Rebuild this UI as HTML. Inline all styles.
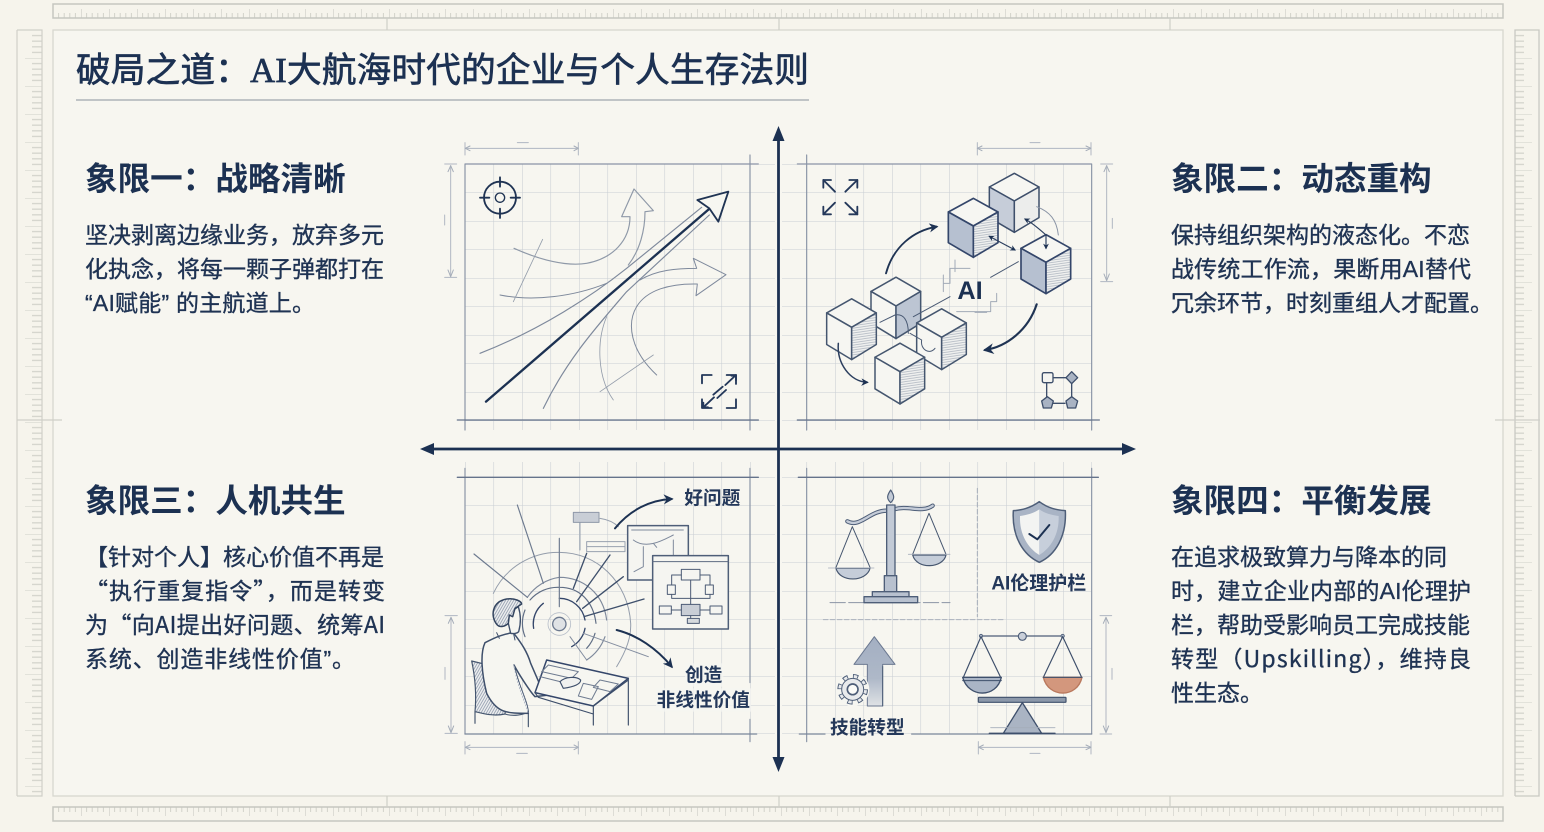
<!DOCTYPE html>
<html lang="zh-CN"><head><meta charset="utf-8"><title>破局之道</title>
<style>
html,body{margin:0;padding:0;width:1544px;height:832px;overflow:hidden;background:#f6f4ec}
svg{display:block;filter:blur(.35px)}
.t{font-family:"Liberation Serif","Noto Sans CJK SC",serif;font-size:34.6px;fill:#1c3152;stroke:#1c3152;stroke-width:.7}
.h{font-family:"Liberation Sans","Noto Sans CJK SC",sans-serif;font-size:32.6px;font-weight:700;fill:#1c3152}
.b{font-family:"Liberation Sans","Noto Sans CJK SC",sans-serif;font-size:23px;fill:#1f3353;stroke:#1f3353;stroke-width:.35}
.c{font-family:"Noto Sans CJK SC","Liberation Sans",sans-serif}
.l{font-family:"Liberation Sans","Noto Sans CJK SC",sans-serif;font-size:56px;font-weight:700;fill:#24385a}
.n{fill:none}
</style></head><body>
<svg xmlns="http://www.w3.org/2000/svg" width="1544" height="832" viewBox="0 0 1544 832">
<defs>
<pattern id="gq1" patternUnits="userSpaceOnUse" x="465" y="164" width="28.5" height="28.5"><path d="M0 0H28.5M0 0V28.5" fill="none" stroke="#c9ced3" stroke-width="1.1"/></pattern>
<pattern id="gq2" patternUnits="userSpaceOnUse" x="806.5" y="164" width="28.5" height="28.5"><path d="M0 0H28.5M0 0V28.5" fill="none" stroke="#c9ced3" stroke-width="1.1"/></pattern>
<pattern id="gq3" patternUnits="userSpaceOnUse" x="465" y="477" width="28.5" height="28.5"><path d="M0 0H28.5M0 0V28.5" fill="none" stroke="#c9ced3" stroke-width="1.1"/></pattern>
<pattern id="gq4" patternUnits="userSpaceOnUse" x="806.5" y="477" width="28.5" height="28.5"><path d="M0 0H28.5M0 0V28.5" fill="none" stroke="#c9ced3" stroke-width="1.1"/></pattern>
<pattern id="rt" patternUnits="userSpaceOnUse" x="53" y="0" width="28" height="30"><path d="M5.6 13V18M11.2 13V18M16.8 13V18M22.4 13V18" stroke="#d2d2ca" stroke-width="1"/><path d="M0 9V18" stroke="#c4c5be" stroke-width="1"/></pattern>
<pattern id="rb" patternUnits="userSpaceOnUse" x="53" y="800" width="28" height="30"><path d="M5.6 7V12M11.2 7V12M16.8 7V12M22.4 7V12" stroke="#d2d2ca" stroke-width="1"/><path d="M0 7V16" stroke="#c4c5be" stroke-width="1"/></pattern>
<pattern id="rl" patternUnits="userSpaceOnUse" x="0" y="30" width="60" height="28"><path d="M32 5.6H42M32 11.2H42M32 16.8H42M32 22.4H42" stroke="#d6d6ce" stroke-width="1.4"/><path d="M25 0H42" stroke="#cfcfc7" stroke-width="1"/></pattern>
<pattern id="rr" patternUnits="userSpaceOnUse" x="1500" y="30" width="60" height="28"><path d="M15 5.6H24M15 11.2H24M15 16.8H24M15 22.4H24" stroke="#d6d6ce" stroke-width="1.4"/><path d="M15 0H32" stroke="#cfcfc7" stroke-width="1"/></pattern>
<pattern id="ha" patternUnits="userSpaceOnUse" width="9" height="7" patternTransform="rotate(-8)"><rect width="9" height="7" fill="#eff0ef"/><path d="M0 3H9" stroke="#a8b0bb" stroke-width="2"/></pattern>
<pattern id="hd" patternUnits="userSpaceOnUse" width="7" height="7" patternTransform="rotate(30)"><rect width="7" height="7" fill="#eceeef"/><path d="M3 0V7" stroke="#7f8ba0" stroke-width="2"/></pattern>
<linearGradient id="fade" x1="0" y1="0" x2="0" y2="1"><stop offset="0" stop-color="#a3afc2"/><stop offset=".6" stop-color="#aeb8c8"/><stop offset="1" stop-color="#dfe2e5"/></linearGradient>
<marker id="ah" viewBox="0 0 10 10" refX="8" refY="5" markerWidth="5" markerHeight="5" orient="auto-start-reverse"><path d="M0 0L10 5L0 10L3 5Z" fill="#1c3152"/></marker>
<path id="tp" d="M0 0L-75-42L0-83L74-42Z"/>
<path id="lf" d="M0 0L-75-42V50L0 94Z"/>
<path id="rf" d="M0 0L74-42V50L0 94Z"/>
</defs>

<rect width="1544" height="832" fill="#f6f4ec"/>
<rect x="53" y="30" width="1450" height="766" fill="#f7f6f0" stroke="#d7d7cf" stroke-width="1.3"/>

<!-- rulers -->
<rect x="53" y="4" width="1450" height="14" fill="url(#rt)" stroke="#c5c6c0" stroke-width="1.5"/>
<rect x="53" y="807" width="1450" height="14" fill="url(#rb)" stroke="#c5c6c0" stroke-width="1.5"/>
<rect x="17" y="30" width="25" height="766" fill="url(#rl)"/>
<path d="M17 30V796M17 30H42V796H17" fill="none" stroke="#d0d0c9" stroke-width="1.2"/>
<rect x="1515" y="30" width="24" height="766" fill="url(#rr)"/>
<path d="M1515 796V30H1539V796H1515" fill="none" stroke="#c9c9c3" stroke-width="1.3"/>
<path d="M387 18V30M779 18V30M1170 18V30M387 796V807M779 796V807M1170 796V807M17 420H62M1495 420H1540" stroke="#cfcfc8" stroke-width="1.2"/>

<!-- title -->
<text class="t" x="76" y="82" textLength="733">破局之道：AI大航海时代的企业与个人生存法则</text>
<path d="M76 100H809" stroke="#aeb3b7" stroke-width="1.5"/>

<!-- left/right text -->
<text class="h" x="85" y="190">象限一：战略清晰</text>
<text class="b" x="85" y="243">坚决剥离边缘业务，放弃多元</text>
<text class="b" x="85" y="277">化执念，将每一颗子弹都打在</text>
<text class="b" x="85" y="311" textLength="230">“AI赋能” 的主航道上。</text>

<text class="h" x="1171" y="190">象限二：动态重构</text>
<text class="b" x="1171" y="243">保持组织架构的液态化。不恋</text>
<text class="b" x="1171" y="277" textLength="300">战传统工作流，果断用AI替代</text>
<text class="b" x="1171" y="311">冗余环节，时刻重组人才配置。</text>

<text class="h" x="85" y="512">象限三：人机共生</text>
<text class="b" x="85" y="565">【针对个人】核心价值不再是</text>
<text class="b c" x="85" y="599" textLength="300">“执行重复指令”，而是转变</text>
<text class="b c" x="85" y="633" textLength="300">为“向AI提出好问题、统筹AI</text>
<text class="b" x="85" y="667" textLength="270">系统、创造非线性价值”。</text>

<text class="h" x="1171" y="512">象限四：平衡发展</text>
<text class="b" x="1171" y="565">在追求极致算力与降本的同</text>
<text class="b" x="1171" y="599" textLength="300">时，建立企业内部的AI伦理护</text>
<text class="b" x="1171" y="633">栏，帮助受影响员工完成技能</text>
<text class="b c" x="1171" y="667" textLength="300">转型（Upskilling），维持良</text>
<text class="b" x="1171" y="701">性生态。</text>

<!-- grids -->
<rect x="465" y="164" width="310" height="266" fill="url(#gq1)"/>
<rect x="782" y="164" width="310" height="266" fill="url(#gq2)"/>
<rect x="465" y="462" width="310" height="272" fill="url(#gq3)"/>
<rect x="782" y="462" width="310" height="272" fill="url(#gq4)"/>

<!-- axes -->
<path d="M778.5 134V764M428 449H1128" stroke="#1c3152" stroke-width="2.8"/>
<path d="M778.5 126L784.5 141H772.5ZM778.5 772L784.5 757H772.5ZM420 449L434 443V455ZM1136 449L1122 443V455Z" fill="#1c3152"/>

<!-- Q1 -->
<g transform="translate(440 120) scale(.33333)" fill="none" stroke-linecap="round" stroke-linejoin="round">
<path d="M75 132H955M930 105V930M75 132V930" stroke="#8a94a6" stroke-width="3.5"/>
<path d="M52 900H955" stroke="#65738b" stroke-width="4"/>
<path d="M75 68V105M415 68V105M80 85H410M232 68H265M14 132H50M14 472H50M32 137V468M14 285V315" stroke="#b0b7c2" stroke-width="3"/>
<path d="M90 78L76 85L90 92M402 78L415 85L402 92M24 155L32 137L40 155M24 450L32 470L40 450" stroke="#a4acb8" stroke-width="3"/>
<g stroke="#1f3353" stroke-width="5.5"><circle cx="180" cy="233" r="48"/><circle cx="180" cy="233" r="14" stroke-width="4"/><path d="M180 172V200M180 266V294M120 233H148M212 233H240"/></g>
<path d="M120 700C300 630 460 525 560 445L785 262" stroke="#7e899c" stroke-width="3.5"/>
<path d="M310 865C380 720 470 620 560 515L808 285" stroke="#7e899c" stroke-width="3.5"/>
<path d="M222 385C300 420 380 440 440 430C520 415 570 360 570 290L545 290L582 207L640 272L615 275C615 330 600 390 565 435" stroke="#8f99a8" stroke-width="3.5"/>
<path d="M180 525C280 545 400 530 500 490" stroke="#7e899c" stroke-width="3"/>
<path d="M600 480C650 450 710 445 770 445L760 415L858 464L768 527L772 492C690 490 620 510 590 560C560 610 570 690 650 765" stroke="#7e899c" stroke-width="3"/>
<path d="M500 590C470 660 470 770 520 840M480 815L640 705M308 358L220 545" stroke="#949dab" stroke-width="2.5"/>
<path d="M138 845L806 268" stroke="#1c3152" stroke-width="7"/>
<path d="M772 240L865 215L835 305L808 265Z" fill="#f6f6f1" stroke="#1f3353" stroke-width="5.5"/>
<g stroke="#24385a" stroke-width="5.5"><path d="M786 790V765H815M860 765H888V792M786 838V864H815M860 864H888V838"/><path d="M856 795L888 765M790 862L822 832M820 824L848 800M832 834L858 810" /><path d="M874 767H888V781M790 848V862H804"/></g>
</g>

<!-- Q2 -->
<g transform="translate(780 120) scale(.33333)" fill="none" stroke-linecap="round" stroke-linejoin="round">
<path d="M80 105V930M52 132H935V930" stroke="#8a94a6" stroke-width="3.5"/>
<path d="M52 900H958" stroke="#65738b" stroke-width="4"/>
<path d="M592 68V105M933 68V105M596 85H930M750 68H780M962 132H998M962 485H998M980 137V480M997 295V325" stroke="#b0b7c2" stroke-width="3"/>
<path d="M606 78L592 85L606 92M918 78L933 85L918 92M972 155L980 137L988 155M972 462L980 482L988 462" stroke="#a4acb8" stroke-width="3"/>
<g stroke="#24385a" stroke-width="5.5"><path d="M130 180L165 215M196 215L232 180M130 283L165 248M196 248L232 283"/><path d="M130 203V180H153M208 180H232V203M130 260V283H153M208 283H232V260"/></g>
<!-- back cube -->
<g transform="translate(703 243)" stroke="#3e4f6b" stroke-width="4.5"><use href="#tp" fill="#f6f6f2"/><use href="#lf" fill="#c6cdd9"/><use href="#rf" fill="#ecedec"/></g>
<g transform="translate(580 318)" stroke="#34466a" stroke-width="5"><use href="#tp" fill="#f6f6f2"/><use href="#lf" fill="#b6c0d0"/><use href="#rf" fill="url(#ha)"/></g>
<g transform="translate(798 427)" stroke="#34466a" stroke-width="5"><use href="#tp" fill="#f6f6f2"/><use href="#lf" fill="#b6c0d0"/><use href="#rf" fill="url(#ha)"/></g>
<g transform="translate(348 558) scale(1 1.04)" stroke="#45566f" stroke-width="4.5"><use href="#tp" fill="#f6f6f2"/><use href="#lf" fill="#f6f6f2"/><use href="#rf" fill="#bcc5d3"/></g>
<g transform="translate(215 622) scale(1 1.03)" stroke="#45566f" stroke-width="4.5"><use href="#tp" fill="#f6f6f2"/><use href="#lf" fill="#f6f6f2"/><use href="#rf" fill="url(#ha)"/></g>
<g transform="translate(485 652) scale(1 1.03)" stroke="#45566f" stroke-width="4.5"><use href="#tp" fill="#f6f6f2"/><use href="#lf" fill="#f6f6f2"/><use href="#rf" fill="url(#ha)"/></g>
<g transform="translate(360 755) scale(1 1.03)" stroke="#45566f" stroke-width="4.5"><use href="#tp" fill="#f6f6f2"/><use href="#lf" fill="#f6f6f2"/><use href="#rf" fill="url(#ha)"/></g>
<path d="M318 460C340 380 400 332 470 320" stroke="#1f3353" stroke-width="5.5" marker-end="url(#ah)"/>
<path d="M770 553C745 630 680 680 615 690" stroke="#1f3353" stroke-width="6.5" marker-end="url(#ah)"/>
<path d="M175 670C170 730 210 785 262 787" stroke="#2c3f5f" stroke-width="4.5" marker-end="url(#ah)"/>
<path d="M628 349L705 390" stroke="#2c3f5f" stroke-width="3.5" marker-start="url(#ah)" marker-end="url(#ah)"/>
<path d="M835 345C830 300 810 275 770 260" stroke="#8a94a5" stroke-width="3"/>
<path d="M798 385V345C770 320 750 305 735 297" stroke="#2c3f5f" stroke-width="3.5" marker-start="url(#ah)" marker-end="url(#ah)"/>
<path d="M632 472L715 425M510 530L400 590M300 607L345 585C370 580 385 600 385 640M390 640L425 660C420 690 450 705 465 685" stroke="#4a5a74" stroke-width="3"/>
<path d="M490 490H510V445H570M525 420V455M490 465V515M650 520V545H632V575H530M585 577H620" stroke="#a2aab7" stroke-width="3"/>
<text x="570" y="537" font-family="'Liberation Sans',sans-serif" font-weight="700" font-size="76" fill="#1c3152" stroke="none" text-anchor="middle">AI</text>
<g stroke="#3e4f6b" stroke-width="4"><path d="M818 773H858M800 790V832M875 790V832M820 850H855"/><rect x="787" y="758" width="32" height="30" rx="5" fill="#f4f4f0"/><path d="M875 755L893 773L875 791L858 773Z" fill="#a9b3c3"/><path d="M802 830L820 843L814 864H790L785 843Z" fill="#a9b3c3"/><path d="M875 830L893 843L887 864H863L858 843Z" fill="#a9b3c3"/></g>
</g>

<!-- Q3 -->
<g transform="translate(440 460) scale(.33333)" fill="none" stroke-linecap="round" stroke-linejoin="round">
<path d="M75 25V822" stroke="#8a94a6" stroke-width="3.5"/>
<path d="M930 25V668M930 778V845" stroke="#8a94a6" stroke-width="3.5"/>
<path d="M52 52H955" stroke="#65738b" stroke-width="4"/>
<path d="M75 822H950" stroke="#7a869a" stroke-width="4"/>
<path d="M75 845V882M415 845V882M80 862H410M230 880H262M15 467H52M15 820H52M33 472V815M15 622V658" stroke="#b0b7c2" stroke-width="3"/>
<path d="M90 855L76 862L90 869M402 855L415 862L402 869M25 490L33 472L41 490M25 798L33 818L41 798" stroke="#a4acb8" stroke-width="3"/>
<!-- rays & arcs -->
<circle cx="358" cy="492" r="20" fill="#dfe2e5" stroke="#6d7a90" stroke-width="4"/>
<circle cx="358" cy="492" r="34" stroke="#b7bec9" stroke-width="2.5"/>
<path d="M358 415A78 78 0 0 1 435 480M281 505A78 78 0 0 1 310 430M435 505A78 78 0 0 1 395 560" stroke="#34466a" stroke-width="4"/>
<path d="M270 420A110 110 0 0 1 358 382C420 382 460 425 468 490M465 520A110 110 0 0 1 440 565M255 530A110 110 0 0 1 255 450" stroke="#5f6d84" stroke-width="3.5"/>
<path d="M262 412A140 140 0 0 1 358 352C430 352 490 400 500 480M495 530A140 140 0 0 1 440 600" stroke="#7e899c" stroke-width="3.5"/>
<path d="M160 400A215 215 0 0 1 358 277C470 277 565 365 572 490C574 530 560 570 530 620" stroke="#949dab" stroke-width="3"/>
<path d="M358 235V440M232 135L310 370M102 282L262 412" stroke="#6d7a8f" stroke-width="3.5"/>
<path d="M440 280L400 385M510 285L410 425M550 350L428 445M612 417L432 470" stroke="#3f506c" stroke-width="4"/>
<path d="M390 530L440 600M430 520L625 590" stroke="#848ea0" stroke-width="3"/>
<!-- small diagram -->
<path d="M440 245H555V275H440ZM420 185V270M480 175C500 178 520 185 535 200M440 260H555" stroke="#98a1af" stroke-width="3"/>
<rect x="400" y="157" width="77" height="30" fill="#c9ced6" stroke="#8e98a8" stroke-width="3"/>
<!-- screens -->
<rect x="563" y="197" width="182" height="163" fill="#f5f5f1" stroke="#4e5e78" stroke-width="4.5"/>
<path d="M580 240C620 270 670 240 700 225M610 260V320L582 335M640 250L650 262M700 240V290M575 210H730" stroke="#7f8a9d" stroke-width="3"/>
<rect x="638" y="287" width="227" height="220" fill="#f5f5f1" stroke="#4e5e78" stroke-width="4.5"/>
<path d="M638 305H865" stroke="#5d6b83" stroke-width="3"/>
<g stroke="#4c5b75" stroke-width="3"><rect x="724" y="328" width="56" height="32"/><rect x="682" y="375" width="24" height="28"/><rect x="796" y="375" width="24" height="28"/><rect x="658" y="438" width="36" height="24"/><rect x="810" y="438" width="36" height="24"/><rect x="724" y="433" width="56" height="34" fill="#c9ced6"/><rect x="742" y="475" width="36" height="15" fill="#d6dade"/><path d="M724 345H695V375M780 345H810V375M752 360V433M694 450H724M780 450H810M695 403V415H810V403M752 467V475"/></g>
<!-- arrows -->
<path d="M525 205C570 150 630 120 695 117" stroke="#1c3152" stroke-width="6" marker-end="url(#ah)"/>
<path d="M530 510C590 525 650 565 695 620" stroke="#1c3152" stroke-width="6" marker-end="url(#ah)"/>
<!-- chair -->
<path d="M95 603L185 625C198 680 198 740 195 762C160 770 125 760 105 755C110 700 105 650 95 603Z" fill="url(#hd)" stroke="#45566f" stroke-width="3.5"/>
<path d="M105 755V790M265 760V800M195 762C220 770 250 765 265 755" stroke="#45566f" stroke-width="3.5"/>
<!-- person -->
<path d="M135 548C170 530 190 522 220 518C240 545 260 570 272 610L298 670L360 660L370 700L285 710C270 695 235 640 222 615C235 680 262 720 265 760C200 760 170 760 140 700C125 640 120 580 135 548Z" fill="#f6f6f1" stroke="#3e4f6b" stroke-width="4.5"/>
<path d="M222 615C235 680 262 720 265 760C250 720 232 680 220 615Z" fill="url(#hd)"/>
<path d="M170 518L178 535M220 518L225 540" stroke="#3e4f6b" stroke-width="3"/>
<path d="M205 490L212 520C220 522 232 520 236 515C243 490 243 465 235 440L205 460Z" fill="#f6f6f1" stroke="#3e4f6b" stroke-width="4"/>
<path d="M172 495C150 470 155 425 200 417C225 413 245 425 245 432L225 445L218 470L208 465L205 490C195 500 180 503 172 495Z" fill="url(#hd)" stroke="#33445f" stroke-width="4.5"/>
<!-- desk -->
<path d="M320 600L565 655L460 738L285 698Z" fill="#f6f6f1" stroke="#34466a" stroke-width="4.5"/>
<path d="M285 698L295 712L460 762V738M460 738V795M565 655V795M460 738L565 660" stroke="#3e4f6b" stroke-width="3.5"/>
<path d="M325 615L415 635L395 655L305 635ZM430 670L475 680L455 718L415 708ZM480 660L535 672L510 695L460 682ZM300 650L360 665" stroke="#6e7b90" stroke-width="3"/>
<path d="M360 665C375 650 410 648 422 660C422 672 405 680 370 685Z" fill="#f0f1ef" stroke="#3e4f6b" stroke-width="3.5"/>
<text class="l" x="733" y="133">好问题</text>
<rect x="735" y="610" width="115" height="70" fill="#f6f6f1" opacity=".75"/>
<rect x="648" y="685" width="285" height="70" fill="#f6f6f1" opacity=".75"/>
<text class="l" x="735" y="665">创造</text>
<text class="l" x="650" y="740">非线性价值</text>
</g>

<!-- Q4 -->
<g transform="translate(780 460) scale(.33333)" fill="none" stroke-linecap="round" stroke-linejoin="round">
<path d="M80 25V845M935 25V822" stroke="#8a94a6" stroke-width="3.5"/>
<path d="M55 52H955" stroke="#65738b" stroke-width="4"/>
<path d="M58 822H135M395 822H935" stroke="#7a869a" stroke-width="4"/>
<path d="M595 845V882M933 845V882M600 862H930M750 880H780M960 467H995M960 822H995M978 472V817M996 625V658" stroke="#b0b7c2" stroke-width="3"/>
<path d="M610 855L596 862L610 869M918 855L933 862L918 869M970 490L978 472L986 490M970 798L978 818L986 798" stroke="#a4acb8" stroke-width="3"/>
<path d="M592 85V470M130 479H670" stroke="#a9b0bb" stroke-width="3" stroke-dasharray="14 7"/>
<!-- scale 1 -->
<path d="M150 428H510" stroke="#8a94a5" stroke-width="3" stroke-dasharray="46 10"/>
<path d="M332 90C322 105 318 115 332 128C346 115 342 105 332 90Z" fill="#c2cad6" stroke="#4e5e78" stroke-width="3.5"/>
<path d="M202 184C240 205 270 150 322 152M342 148C385 135 425 160 458 137" stroke="#4e5e78" stroke-width="13"/>
<path d="M202 184C240 205 270 150 322 152M342 148C385 135 425 160 458 137" stroke="#c5ccd8" stroke-width="7"/>
<rect x="320" y="135" width="25" height="215" fill="#c2cad6" stroke="#4e5e78" stroke-width="4"/>
<path d="M217 200L168 322M217 200L270 322M447 160L398 283M447 160L498 283" stroke="#46566f" stroke-width="3"/>
<path d="M168 325H270C260 365 180 370 168 325Z" fill="#c5cdd9" stroke="#46566f" stroke-width="3.5"/>
<path d="M398 285H498C490 325 410 330 398 285Z" fill="#c5cdd9" stroke="#46566f" stroke-width="3.5"/>
<path d="M145 324H282M385 283H510" stroke="#a5adba" stroke-width="2.5"/>
<g fill="#b8c1cf" stroke="#4e5e78" stroke-width="4"><rect x="313" y="347" width="37" height="48"/><rect x="277" y="395" width="110" height="15"/><rect x="252" y="410" width="161" height="18"/></g>
<!-- shield -->
<path d="M778 125C750 145 725 150 700 152C695 230 730 285 778 307C826 285 860 230 856 152C830 150 805 145 778 125Z" fill="#a9b4c5" stroke="#4e5e78" stroke-width="4.5"/>
<path d="M778 148C760 160 740 165 720 168C718 225 745 265 778 285Z" fill="#f3f4f2" stroke="none"/>
<path d="M778 148C795 160 815 165 836 168C838 225 811 265 778 285Z" fill="#c7cfdb" stroke="none"/>
<path d="M748 222L772 238L808 195" stroke="#1c3152" stroke-width="6"/>
<text class="l" x="634" y="388" style="font-size:57px">AI伦理护栏</text>
<!-- arrow & gear -->
<path d="M283 530L345 613H308V738H262V613H222Z" fill="url(#fade)" stroke="#6b7890" stroke-width="3"/>
<path d="M308 620V738" stroke="#4e5e78" stroke-width="3"/>
<circle cx="218" cy="688" r="50" fill="#f6f6f1" stroke="none"/>
<circle cx="218" cy="688" r="38" stroke="#4e5e78" stroke-width="16" stroke-dasharray="15 14.8" stroke-linecap="butt"/>
<circle cx="218" cy="688" r="38" stroke="#e8eaec" stroke-width="10" stroke-dasharray="10 19.8" stroke-dashoffset="-2.5" stroke-linecap="butt"/>
<circle cx="218" cy="688" r="33" fill="#e8eaec" stroke="#4e5e78" stroke-width="3"/>
<circle cx="218" cy="688" r="16" fill="#fbfbf8" stroke="#4e5e78" stroke-width="5"/>
<text class="l" x="150" y="822">技能转型</text>
<!-- scale 2 -->
<path d="M605 528H848" stroke="#4e5e78" stroke-width="4"/>
<circle cx="727" cy="529" r="12" fill="#c9cfd9" stroke="#4e5e78" stroke-width="3.5"/>
<circle cx="603" cy="528" r="5" fill="#a9b4c5" stroke="#4e5e78" stroke-width="2.5"/>
<circle cx="848" cy="528" r="5" fill="#a9b4c5" stroke="#4e5e78" stroke-width="2.5"/>
<path d="M603 530L550 652M603 530L662 652M848 530L790 652M848 530L905 652" stroke="#3e4f6b" stroke-width="3.5"/>
<path d="M548 652H664C650 715 565 715 548 652Z" fill="#aab5c6" stroke="#3e4f6b" stroke-width="4"/>
<path d="M548 662H664" stroke="#3e4f6b" stroke-width="3"/>
<path d="M790 652H906C892 715 805 715 790 652Z" fill="#d3977d" stroke="#b9785d" stroke-width="4"/>
<path d="M790 652H906" stroke="#3e4f6b" stroke-width="3.5"/>
<rect x="595" y="712" width="263" height="15" rx="2" fill="#8c98aa" stroke="#3e4f6b" stroke-width="3.5"/>
<path d="M727 728L670 820H785Z" fill="#aab4c3" stroke="#3e4f6b" stroke-width="4"/>
<path d="M628 820H825" stroke="#3e4f6b" stroke-width="4"/>
<path d="M632 803H825" stroke="#a5adba" stroke-width="2.5"/>
</g>
</svg>
</body></html>
